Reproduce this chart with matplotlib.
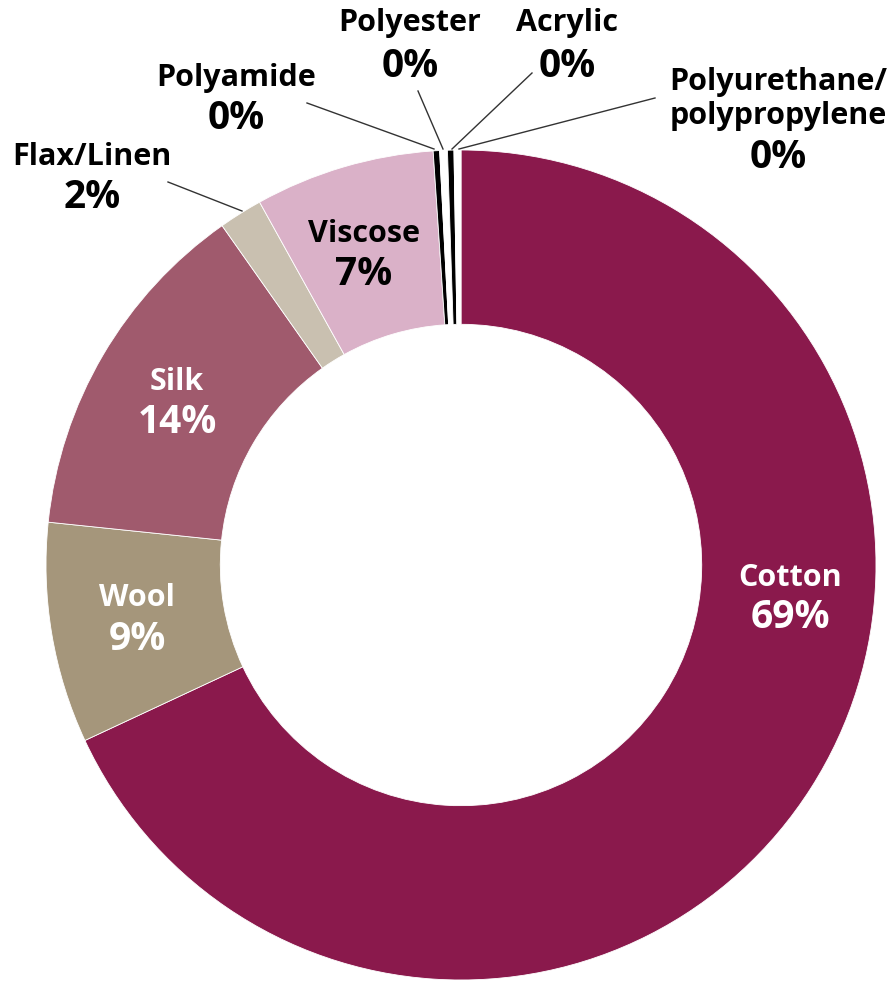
import matplotlib
matplotlib.use("Agg")
import matplotlib.pyplot as plt

# fibre shares and the rounded labels shown
fibres = ["Cotton", "Wool", "Silk", "Flax/Linen", "Viscose",
          "Polyamide", "Polyester", "Acrylic", "Polyurethane/\npolypropylene"]
shares = [68.1, 8.6, 13.6, 1.7, 7.0, 0.25, 0.3, 0.25, 0.27]
pct_labels = ["69%", "9%", "14%", "2%", "7%", "0%", "0%", "0%", "0%"]
colors = ["#8A194C", "#A5967B", "#A05A6D", "#C9C0B0", "#DAB1C8",
          "#000000", "#FFFFFF", "#000000", "#FFFFFF"]

W, H = 890, 982
plt.rcParams["font.family"] = ["Open Sans", "DejaVu Sans"]

fig = plt.figure(figsize=(W / 100, H / 100), dpi=100)
ax = fig.add_axes([0, 0, 1, 1])

R = 415
ax.pie(shares, colors=colors, startangle=90, counterclock=False,
       center=(461, H - 565), radius=R,
       wedgeprops=dict(width=R * 0.42, edgecolor="white", linewidth=0.6))

# pie() resets the limits, so set the pixel frame afterwards
ax.set_xlim(0, W)
ax.set_ylim(0, H)
ax.set_aspect("equal")
ax.axis("off")


def px(x, y):
    return x, H - y


# label layout in pixel coords: (name x, name y, pct y, text colour)
layout = {
    "Cotton": (790, 578, 618, "white"),
    "Wool": (137, 598, 640, "white"),
    "Silk": (177, 382, 422, "white"),
    "Viscose": (364, 234, 274, "black"),
    "Flax/Linen": (92, 157, 197, "black"),
    "Polyamide": (236, 78, 118, "black"),
    "Polyester": (410, 23, 66, "black"),
    "Acrylic": (567, 23, 66, "black"),
    "Polyurethane/\npolypropylene": (778, 99, 157, "black"),
}

for name, pct in zip(fibres, pct_labels):
    x, yn, yp, c = layout[name]
    ax.text(*px(x, yn), name, ha="center", va="center", fontsize=22,
            fontweight="bold", color=c, linespacing=1.15)
    ax.text(*px(x, yp), pct, ha="center", va="center", fontsize=28,
            fontweight="bold", color=c)

# leader lines for the small slices
leaders = [
    ((168, 182), (242, 211)),
    ((307, 103), (434, 149)),
    ((418, 91), (443, 149)),
    ((532, 73), (452, 149)),
    ((655, 98), (459, 149)),
]
for (x0, y0), (x1, y1) in leaders:
    ax.plot([x0, x1], [H - y0, H - y1], color="#333333", linewidth=1)

fig.savefig("out.png", dpi=100)
